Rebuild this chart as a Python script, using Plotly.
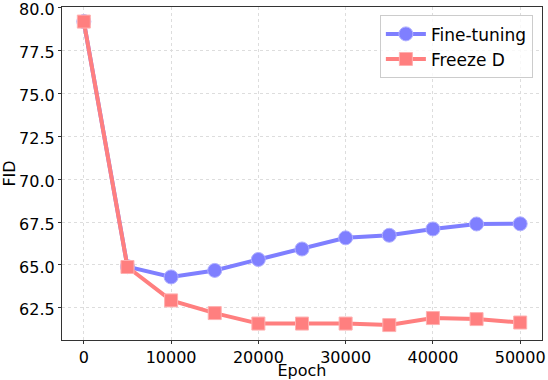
import plotly.graph_objects as go

epochs = [0, 5000, 10000, 15000, 20000, 25000, 30000, 35000, 40000, 45000, 50000]
fine_tuning = [79.2, 64.9, 64.3, 64.68, 65.32, 65.93, 66.58, 66.73, 67.1, 67.39, 67.4]
freeze_d = [79.2, 64.88, 62.93, 62.19, 61.58, 61.58, 61.58, 61.49, 61.9, 61.84, 61.64]

blue = "#7f7fff"
red = "#ff7f7f"

fig = go.Figure()
fig.add_trace(go.Scatter(x=epochs, y=fine_tuning, name="Fine-tuning",
                         mode="lines+markers",
                         line=dict(color=blue, width=4),
                         marker=dict(symbol="circle", size=14, color=blue,
                                     line=dict(color="#b0b0ff", width=1))))
fig.add_trace(go.Scatter(x=epochs, y=freeze_d, name="Freeze D",
                         mode="lines+markers",
                         line=dict(color=red, width=4),
                         marker=dict(symbol="square", size=13, color=red,
                                     line=dict(color="#ffb0b0", width=1))))

axis_common = dict(showline=True, mirror=True, linecolor="#333333", linewidth=1.3,
                   ticks="outside", ticklen=3, tickcolor="#333333",
                   showgrid=True, gridcolor="#dddddd", griddash="dot", gridwidth=1,
                   zeroline=False, tickfont=dict(size=16, color="black"),
                   ticklabeloverflow="allow")

fig.update_xaxes(range=[-2500, 52500], tickvals=[0, 10000, 20000, 30000, 40000, 50000],
                 tickformat="d",
                 title=dict(text="Epoch", font=dict(size=16, color="black"), standoff=0),
                 **axis_common)
fig.update_yaxes(range=[60.62, 80.05], tickvals=[62.5, 65, 67.5, 70, 72.5, 75, 77.5, 80],
                 tickformat=".1f", ticklabelshift=2,
                 title=dict(text="FID", font=dict(size=16, color="black"), standoff=2),
                 **axis_common)

fig.update_layout(width=548, height=380,
                  margin=dict(l=62, r=6, t=7, b=40, autoexpand=False),
                  paper_bgcolor="white", plot_bgcolor="white",
                  font=dict(family="DejaVu Sans", color="black"),
                  legend=dict(x=0.981, y=0.975, xanchor="right", yanchor="top",
                              bgcolor="rgba(255,255,255,0.8)", bordercolor="#cccccc",
                              borderwidth=1, font=dict(size=17), itemwidth=40))

# drop the default 8px page margin so the figure fills the window
fig.write_html("out.html", config={"displayModeBar": False},
               post_script="document.body.style.margin='0';")
